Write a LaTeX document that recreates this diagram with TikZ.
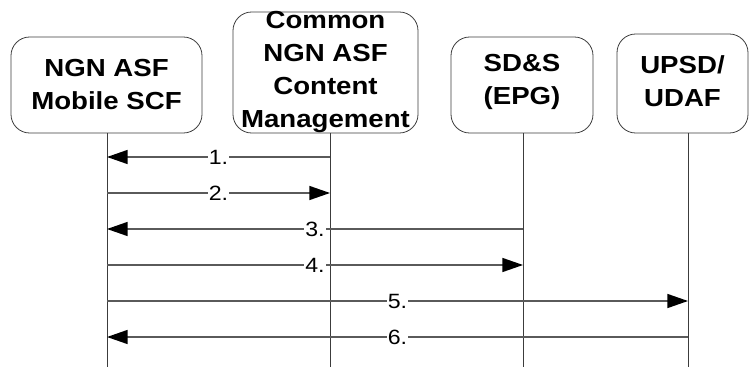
\documentclass[tikz,border=0pt]{standalone}
\usepackage{fontspec}
\setmainfont{Liberation Sans}
\newfontfamily\boxfont[FakeStretch=1.12]{Liberation Sans}
\usetikzlibrary{arrows.meta,positioning}
\definecolor{rand}{HTML}{3C3C3C}
\definecolor{pfeil}{HTML}{5A5A5A}
\tikzset{
  box/.style={draw=rand,line width=0.6pt,rounded corners=14pt,inner sep=0pt},
  boxtxt/.style={align=center,inner sep=0pt,font=\boxfont\fontsize{18.5}{24.75}\selectfont\bfseries},
  life/.style={rand,line width=0.6pt},
  msg/.style={-{Triangle[length=15.5pt,width=10.5pt,black]},pfeil,line width=1.1pt},
  nr/.style={fill=white,inner xsep=1pt,inner ysep=0pt,text=black,font=\boxfont\fontsize{15.5}{15.5}\selectfont},
}

\begin{document}
\begin{tikzpicture}[x=0.75pt,y=-0.75pt]
  \useasboundingbox (0,0) rectangle (749,367);
  % Instanzen
  \node[box,minimum width=191*0.75pt,minimum height=96*0.75pt] (asf) at (106.5,85) {};
  \node[boxtxt] (asftxt) at (asf.center) {NGN ASF\\Mobile SCF};
  \node[box,minimum width=185*0.75pt,minimum height=121*0.75pt] (cm) at (325.5,72.5) {};
  \node[boxtxt] (cmtxt) at (cm.center) {Common\\NGN ASF\\Content\\Management};
  \node[box,minimum width=142*0.75pt,minimum height=96*0.75pt] (epg) at (522,85) {};
  \node[boxtxt] (epgtxt) at ([yshift=2pt]epg.center) {SD\&S\\(EPG)};
  \node[box,minimum width=131*0.75pt,minimum height=99*0.75pt] (upsd) at (682.5,83.5) {};
  \node[boxtxt] (upsdtxt) at ([yshift=2pt]upsd.center) {UPSD/\\UDAF};
  % Lebenslinien
  \coordinate (lasf) at (107,133);
  \coordinate (lcm) at (330,133);
  \coordinate (lepg) at (523,133);
  \coordinate (lupsd) at (688,133);
  \coordinate (unten) at (0,367);
  \foreach \n in {lasf,lcm,lepg,lupsd}
    \draw[life] (\n) -- (\n |- unten);
  % Nachrichten
  \foreach \y/\a/\b/\t in {157/lcm/lasf/1., 193/lasf/lcm/2., 229/lepg/lasf/3.,
                           265/lasf/lepg/4., 301/lasf/lupsd/5., 337/lupsd/lasf/6.}
    \draw[msg] (\a |- 0,\y) -- node[nr]{\t} (\b |- 0,\y);
\end{tikzpicture}
\end{document}
